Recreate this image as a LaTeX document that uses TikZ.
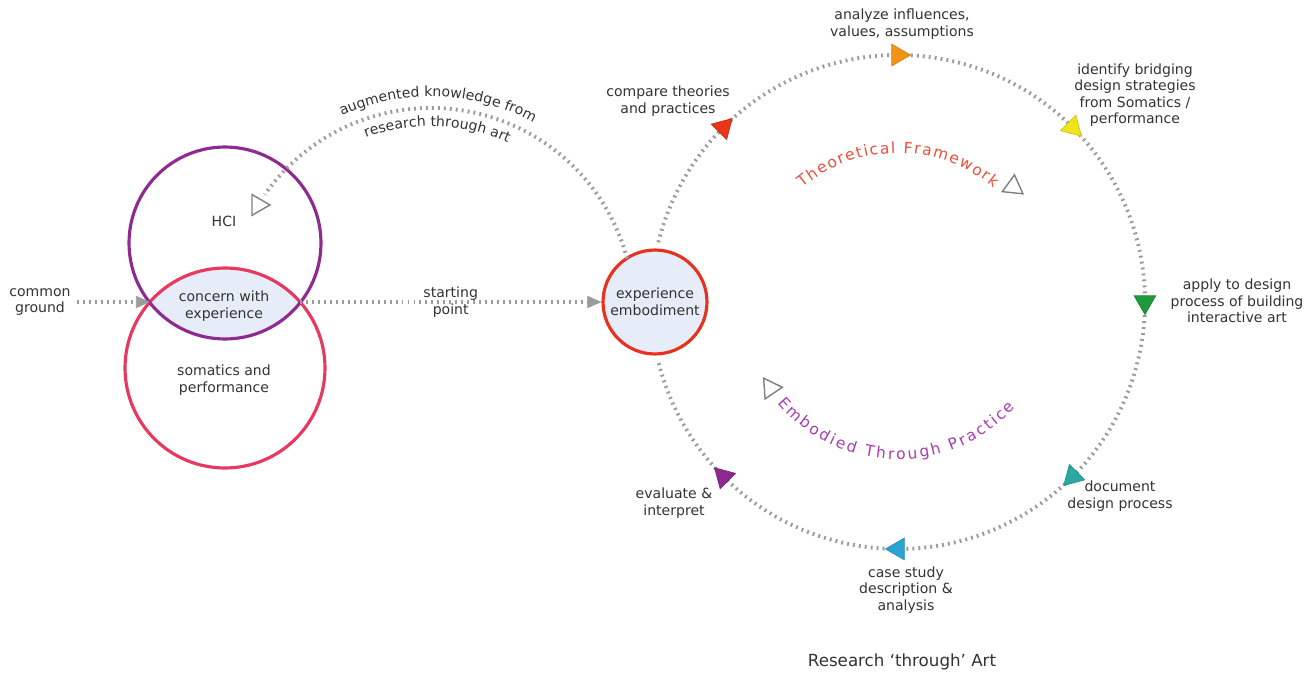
\documentclass[tikz,border=0pt]{standalone}
\usepackage{fontspec}
\setmainfont{DejaVu Sans}
\usetikzlibrary{arrows.meta,shapes.geometric,decorations.text}

\definecolor{txtgray}{HTML}{333333}
\definecolor{dotgray}{HTML}{9C9C9C}
\definecolor{hcipurple}{HTML}{8E2B91}
\definecolor{somapink}{HTML}{E8385E}
\definecolor{embred}{HTML}{E8321E}
\definecolor{lensblue}{HTML}{E6EDF8}
\definecolor{theored}{HTML}{E8503C}
\definecolor{practpurple}{HTML}{A83CAF}
\definecolor{tred}{HTML}{E8361A}
\definecolor{torange}{HTML}{F39419}
\definecolor{tyellow}{HTML}{F2E41C}
\definecolor{tgreen}{HTML}{1E9A3E}
\definecolor{tteal}{HTML}{2AA9A3}
\definecolor{tcyan}{HTML}{2AA5D3}
\definecolor{tpurple}{HTML}{8E2A8E}

\newcommand{\lbl}{\fontsize{8}{9.4}\selectfont}
\newcommand{\arclbl}{\fontsize{8.8}{10}\selectfont}

\begin{document}
\begin{tikzpicture}[x=0.02cm, y=0.02cm,
    every node/.style={font=\lbl, text=txtgray, align=center},
    dots/.style={draw=dotgray, line width=2.2pt, dash pattern=on 1.1pt off 2.3pt},
    tip/.style={-{Triangle[length=8pt, width=7pt, line width=0.4pt]}},
    ring/.style={circle, line width=1.8pt, minimum size=#1, inner sep=0pt},
    cycmark/.style={regular polygon, regular polygon sides=3, minimum size=0.5cm, inner sep=0pt, fill=#1, draw=#1!85!black},
    hollow/.style={regular polygon, regular polygon sides=3, minimum size=0.48cm, inner sep=0pt, draw=gray, line width=0.8pt, fill=white}]
  \useasboundingbox (0,0) rectangle (1316,674);

  \coordinate (hcicen) at (225,431);
  \coordinate (somacen) at (225,306);
  \begin{scope}
    \clip (hcicen) circle[radius=1.92cm];
    \fill[lensblue] (somacen) circle[radius=2cm];
  \end{scope}
  \node[ring=4cm, draw=somapink] (soma) at (somacen) {};
  \node[ring=3.84cm, draw=hcipurple] (hci) at (hcicen) {};

  \node (hcitxt) at (224,453) {HCI};
  \node (concern) at (224,368) {concern with\\experience};
  \node (somatxt) at (224,294) {somatics and\\performance};
  \node (ground) at (40,372) {common\\ground};
  \coordinate (lensl) at (150,372);
  \coordinate (lensr) at (300,372);

  \node[ring=2.08cm, draw=embred, fill=lensblue] (embody) at (655,372) {experience\\embodiment};

  \draw[dots, tip] (ground) -- (lensl);
  \draw[dots, tip] (lensr) -- node (start) {starting\\point} (embody);

  % way back to HCI
  \coordinate (backc) at (431,363);
  \draw[dots] (backc) ++(15:4.06cm) arc[start angle=15, end angle=145, radius=4.06cm];
  \path (backc) ++(148.5:4.06cm) node[hollow, rotate=-90] (back) {};
  \path[decorate, decoration={text along path, text align=center, text color=txtgray,
      text={|\lbl|augmented knowledge from}}]
    (backc) ++(178:4.29cm) arc[start angle=178, end angle=-2, radius=4.29cm];
  \path[decorate, decoration={text along path, text align=center, text color=txtgray,
      text={|\lbl|research through art}}]
    (backc) ++(178:3.7cm) arc[start angle=178, end angle=-2, radius=3.7cm];

  % research through art cycle
  \coordinate (loop) at (898,372);
  \draw[dots] (loop) ++(166:4.94cm) arc[start angle=166, end angle=-166, radius=4.94cm];
  \foreach \a/\c/\n in {135/tred/compmark, 90/torange/anamark, 45/tyellow/identmark,
      0/tgreen/applymark, -45/tteal/docmark, -90/tcyan/casemark, -135/tpurple/evalmark}
    \path (loop) ++(\a:4.94cm) node[cycmark=\c, rotate=\a-180] (\n) {};

  \node (compare) at (668,573) {compare theories\\and practices};
  \node (analyze) at (902,650) {analyze influences,\\values, assumptions};
  \node (identify) at (1135,579) {identify bridging\\design strategies\\from Somatics /\\performance};
  \node (apply) at (1237,373) {apply to design\\process of building\\interactive art};
  \node (document) at (1120,178) {document\\design process};
  \node (casestudy) at (906,84) {case study\\description \&\\analysis};
  \node (evaluate) at (674,171) {evaluate \&\\interpret};

  \path[decorate, decoration={text along path, text align=fit to path, text color=theored,
      text={|\arclbl|Theoretical Framework}}]
    (loop) ++(130:2.98cm) arc[start angle=130, end angle=50, radius=2.98cm];
  \path (loop) ++(45:3.26cm) node[hollow, rotate=-126] (theoarrow) {};
  \path[decorate, decoration={text along path, text align=fit to path, text color=practpurple,
      text={|\arclbl|Embodied Through Practice}}]
    (loop) ++(220:3.15cm) arc[start angle=220, end angle=318, radius=3.15cm];
  \path (loop) ++(214:3.08cm) node[hollow, rotate=-86] (practarrow) {};

  \node[font=\fontsize{9.5}{11}\selectfont] (title) at (902,12) {Research ‘through’ Art};
\end{tikzpicture}
\end{document}
